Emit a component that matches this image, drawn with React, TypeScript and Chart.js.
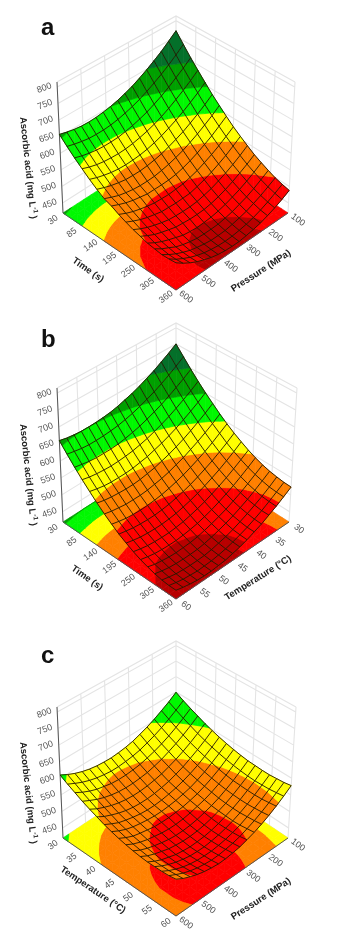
import React, { useEffect, useRef } from "react";
import { Chart, registerables } from "chart.js";
Chart.register(...registerables);

const levels = [450, 500, 550, 600, 650, 700];
const bandColors = ["#b80000", "#ff0000", "#ff8000", "#ffff00", "#00f800", "#00a000", "#04702a"];
const zTicks = [450, 500, 550, 600, 650, 700, 750, 800];
const timeTicks = ["30", "85", "140", "195", "250", "305", "360"];
const tempTicks = ["30", "35", "40", "45", "50", "55", "60"];
const presTicks = ["600", "500", "400", "300", "200", "100"];
const Z0 = 420, Z1 = 815;

// Ascorbic acid: one row per mesh line
const surfaceA = [
  [768, 748, 729, 713, 698, 685, 673, 664, 656, 650, 646, 643, 642, 643, 646, 651, 657],
  [738, 718, 700, 684, 670, 657, 646, 637, 630, 624, 620, 618, 618, 619, 623, 628, 634],
  [709, 690, 673, 657, 643, 631, 620, 612, 605, 600, 596, 595, 595, 597, 601, 606, 613],
  [683, 664, 647, 632, 618, 606, 596, 588, 582, 577, 574, 573, 574, 576, 580, 586, 594],
  [658, 639, 623, 608, 595, 584, 574, 566, 560, 556, 554, 553, 554, 557, 562, 568, 576],
  [634, 616, 600, 586, 573, 563, 554, 546, 541, 537, 535, 535, 536, 540, 545, 552, 560],
  [613, 595, 580, 566, 554, 543, 535, 528, 523, 519, 518, 518, 520, 524, 529, 537, 546],
  [593, 576, 560, 547, 535, 525, 517, 511, 508, 507, 507, 507, 511, 515, 521, 529, 538],
  [574, 558, 543, 530, 519, 509, 502, 496, 494, 492, 493, 494, 498, 503, 509, 517, 527],
  [558, 542, 527, 515, 504, 495, 488, 482, 481, 480, 481, 482, 487, 492, 499, 508, 518],
  [543, 527, 513, 501, 491, 482, 476, 471, 469, 469, 470, 472, 477, 483, 490, 499, 510],
  [529, 514, 501, 489, 479, 471, 465, 461, 460, 460, 462, 464, 470, 476, 483, 493, 504],
  [518, 503, 490, 479, 470, 462, 456, 452, 450, 449, 451, 454, 461, 468, 476, 486, 498],
  [508, 494, 481, 470, 462, 454, 449, 445, 444, 444, 445, 449, 454, 461, 472, 482, 495],
  [499, 486, 474, 464, 455, 449, 444, 440, 439, 439, 442, 446, 451, 459, 468, 479, 492],
  [493, 480, 468, 458, 450, 444, 440, 437, 436, 437, 440, 444, 450, 458, 468, 479, 493],
  [488, 475, 464, 455, 447, 442, 438, 435, 435, 436, 439, 444, 451, 459, 469, 481, 495],
];
const surfaceB = [
  [750, 734, 720, 706, 695, 684, 675, 668, 661, 656, 653, 651, 650, 650, 652, 655, 660],
  [723, 707, 692, 679, 667, 657, 648, 640, 634, 629, 626, 624, 623, 623, 625, 629, 633],
  [697, 681, 667, 654, 642, 632, 623, 615, 609, 604, 600, 598, 598, 598, 600, 604, 608],
  [673, 657, 643, 630, 618, 608, 599, 591, 585, 580, 577, 575, 574, 575, 577, 580, 585],
  [651, 635, 621, 608, 596, 586, 577, 570, 563, 559, 555, 553, 553, 553, 555, 559, 564],
  [631, 615, 601, 588, 576, 566, 557, 550, 543, 539, 535, 533, 533, 534, 536, 539, 544],
  [612, 596, 582, 569, 558, 547, 539, 531, 525, 521, 517, 515, 515, 515, 518, 521, 526],
  [595, 580, 565, 552, 541, 531, 522, 515, 509, 504, 501, 499, 498, 499, 501, 505, 510],
  [580, 564, 550, 537, 526, 516, 507, 500, 494, 489, 486, 484, 484, 485, 487, 491, 495],
  [567, 551, 537, 524, 513, 503, 494, 487, 481, 476, 473, 471, 471, 472, 474, 478, 483],
  [555, 540, 526, 513, 502, 492, 483, 476, 470, 465, 462, 460, 460, 461, 463, 467, 472],
  [545, 530, 516, 503, 492, 482, 473, 466, 460, 456, 453, 451, 451, 452, 454, 458, 463],
  [537, 522, 508, 495, 484, 474, 466, 459, 453, 448, 445, 444, 443, 444, 447, 450, 456],
  [531, 516, 502, 489, 478, 468, 460, 453, 447, 442, 439, 438, 438, 439, 441, 445, 450],
  [527, 511, 497, 485, 474, 464, 455, 448, 443, 438, 435, 434, 434, 435, 437, 441, 446],
  [524, 509, 495, 482, 471, 461, 453, 446, 440, 436, 433, 432, 431, 433, 435, 439, 444],
  [523, 508, 494, 482, 470, 461, 452, 445, 440, 435, 433, 431, 431, 432, 435, 439, 444],
];
const surfaceC = [
  [649, 632, 618, 605, 594, 585, 577, 572, 569, 567, 568, 570, 574, 580, 588, 598, 610],
  [636, 620, 605, 592, 581, 572, 564, 559, 556, 554, 554, 557, 561, 567, 575, 585, 596],
  [625, 608, 593, 580, 569, 560, 553, 547, 544, 542, 542, 544, 549, 554, 562, 572, 584],
  [615, 598, 583, 570, 559, 549, 542, 536, 533, 531, 531, 533, 537, 543, 551, 561, 572],
  [605, 588, 573, 560, 549, 540, 532, 527, 523, 521, 521, 523, 527, 533, 541, 550, 562],
  [597, 580, 565, 552, 540, 531, 523, 518, 514, 512, 512, 514, 518, 524, 532, 541, 553],
  [590, 573, 558, 544, 533, 524, 517, 512, 508, 506, 506, 508, 512, 517, 523, 533, 544],
  [584, 567, 552, 538, 527, 518, 512, 507, 504, 502, 502, 504, 507, 511, 517, 526, 537],
  [579, 562, 546, 533, 522, 513, 507, 502, 499, 497, 497, 498, 502, 506, 511, 520, 531],
  [575, 558, 542, 529, 518, 509, 503, 497, 493, 491, 491, 493, 497, 501, 507, 515, 526],
  [572, 555, 539, 526, 514, 505, 498, 492, 488, 486, 486, 488, 492, 497, 503, 511, 522],
  [571, 553, 538, 524, 512, 503, 495, 489, 485, 483, 483, 485, 488, 494, 500, 508, 519],
  [570, 552, 537, 523, 511, 502, 493, 487, 483, 481, 480, 482, 485, 491, 497, 506, 517],
  [570, 553, 537, 523, 511, 501, 493, 487, 483, 480, 480, 481, 485, 490, 497, 506, 517],
  [572, 554, 538, 525, 513, 502, 494, 488, 484, 481, 481, 482, 485, 490, 497, 506, 517],
  [574, 557, 541, 527, 515, 505, 496, 490, 486, 483, 482, 484, 487, 492, 499, 508, 518],
  [578, 560, 544, 530, 518, 508, 500, 493, 489, 486, 485, 487, 490, 495, 502, 510, 521],
];

type Pt = [number, number];
type Panel = {
  letter: string; letterY: number; top: number; z: number[][];
  floor: Pt[]; roof: Pt[]; // back, right, left, front corners
  leftTicks: string[]; rightTicks: string[]; leftTitle: string; rightTitle: string;
  leftPos: Pt; leftRot: number; rightPos: Pt; rightRot: number; zPos: Pt;
};
const panels: Panel[] = [
  { letter: "a", letterY: 35, top: 0, z: surfaceA,
    floor: [[176, 140], [288, 213], [63, 213], [176, 290]], roof: [[176, 16], [295, 82], [57, 82], [176, 147]],
    leftTicks: timeTicks, rightTicks: presTicks, leftTitle: "Time (s)", rightTitle: "Pressure (MPa)",
    leftPos: [88, 270], leftRot: 35, rightPos: [261, 271], rightRot: -33, zPos: [28, 168] },
  { letter: "b", letterY: 32, top: 315, z: surfaceB,
    floor: [[176, 135], [289, 207], [63, 207], [176, 284]], roof: [[176, 8], [297, 73], [57, 73], [176, 140]],
    leftTicks: timeTicks, rightTicks: tempTicks.slice().reverse(), leftTitle: "Time (s)", rightTitle: "Temperature (\u00b0C)",
    leftPos: [87, 263], leftRot: 35, rightPos: [258, 263], rightRot: -32, zPos: [28, 160] },
  { letter: "c", letterY: 33, top: 630, z: surfaceC,
    floor: [[176, 133], [288, 208], [63, 208], [176, 286]], roof: [[176, 11], [296, 77], [57, 77], [176, 142]],
    leftTicks: tempTicks, rightTicks: presTicks, leftTitle: "Temperature (\u00b0C)", rightTitle: "Pressure (MPa)",
    leftPos: [93, 260], leftRot: 34, rightPos: [261, 269], rightRot: -33, zPos: [28, 163] },
];

const bil = (c: Pt[], t: number, q: number): Pt => {
  const a = (1 - t) * (1 - q), b = t * (1 - q), d = (1 - t) * q, e = t * q;
  return [c[0][0] * a + c[1][0] * b + c[2][0] * d + c[3][0] * e, c[0][1] * a + c[1][1] * b + c[2][1] * d + c[3][1] * e];
};
const project = (p: Panel, t: number, q: number, z: number): { x: number; y: number } => {
  const w = (z - Z0) / (Z1 - Z0), f = bil(p.floor, t, q), r = bil(p.roof, t, q);
  return { x: f[0] + (r[0] - f[0]) * w, y: f[1] + (r[1] - f[1]) * w };
};
type V = [number, number, number];
const clip = (poly: V[], lvl: number, keepAbove: boolean): V[] => {
  const out: V[] = [];
  for (let i = 0; i < poly.length; i++) {
    const a = poly[i], b = poly[(i + 1) % poly.length];
    const ia = keepAbove ? a[2] >= lvl : a[2] <= lvl, ib = keepAbove ? b[2] >= lvl : b[2] <= lvl;
    if (ia) out.push(a);
    if (ia !== ib) { const s = (lvl - a[2]) / (b[2] - a[2]); out.push([a[0] + (b[0] - a[0]) * s, a[1] + (b[1] - a[1]) * s, lvl]); }
  }
  return out;
};
const gap = () => ({ x: NaN, y: NaN });
const bandPolys = (p: Panel, flat: boolean) => {
  const sets: { x: number; y: number }[][] = bandColors.map(() => []);
  const m = p.z, N = m.length - 1;
  const emit = (tri: V[]) => {
    bandColors.forEach((_, b) => {
      let poly = tri;
      if (b > 0) poly = clip(poly, levels[b - 1], true);
      if (b < levels.length && poly.length) poly = clip(poly, levels[b], false);
      if (poly.length >= 3) {
        poly.forEach((v) => sets[b].push(project(p, v[0], v[1], flat ? Z0 : v[2])));
        sets[b].push(project(p, poly[0][0], poly[0][1], flat ? Z0 : poly[0][2]));
        sets[b].push(gap());
      }
    });
  };
  for (let i = 0; i < N; i++) for (let j = 0; j < N; j++) {
    const A: V = [i / N, j / N, m[i][j]], B: V = [(i + 1) / N, j / N, m[i + 1][j]];
    const C: V = [(i + 1) / N, (j + 1) / N, m[i + 1][j + 1]], D: V = [i / N, (j + 1) / N, m[i][j + 1]];
    emit([A, B, C]); emit([A, C, D]);
  }
  return sets;
};
const mesh = (p: Panel) => {
  const d: { x: number; y: number }[] = [], N = p.z.length - 1;
  for (let i = 0; i <= N; i++) { for (let j = 0; j <= N; j++) d.push(project(p, i / N, j / N, p.z[i][j])); d.push(gap()); }
  for (let j = 0; j <= N; j++) { for (let i = 0; i <= N; i++) d.push(project(p, i / N, j / N, p.z[i][j])); d.push(gap()); }
  return d;
};
const walls = (p: Panel) => {
  const d: { x: number; y: number }[] = [];
  const nq = p.rightTicks.length - 1, nt = p.leftTicks.length - 1;
  for (let i = 0; i <= nq; i++) { d.push(project(p, 0, i / nq, Z0), project(p, 0, i / nq, Z1), gap()); }
  for (let i = 1; i <= nt; i++) { d.push(project(p, i / nt, 0, Z0), project(p, i / nt, 0, Z1), gap()); }
  [...zTicks, Z1].forEach((z) => d.push(project(p, 0, 1, z), project(p, 0, 0, z), project(p, 1, 0, z), gap()));
  d.push(project(p, 0, 1, Z0), project(p, 0, 0, Z0), project(p, 1, 0, Z0), gap());
  return d;
};

const FONT = '"Liberation Sans", Arial, sans-serif';
const labelsPlugin = (p: Panel) => ({
  id: "labels",
  afterDraw(chart: any) {
    const { ctx, scales: { x: sx, y: sy } } = chart;
    const text = (s: string, px: number, py: number, rot: number, font: string, color: string, align: CanvasTextAlign = "center") => {
      ctx.save();
      ctx.translate(sx.getPixelForValue(px), sy.getPixelForValue(py));
      ctx.rotate((rot * Math.PI) / 180);
      ctx.font = font; ctx.fillStyle = color; ctx.textAlign = align; ctx.textBaseline = "middle";
      ctx.fillText(s, 0, 0);
      ctx.restore();
    };
    const tf = `9px ${FONT}`, tc = "#555";
    zTicks.forEach((z) => { const a = project(p, 0, 1, z); text(String(z), a.x - 13, a.y + 1, -20, tf, tc); });
    const nt = p.leftTicks.length - 1;
    p.leftTicks.forEach((s, i) => { const a = project(p, i / nt, 1, Z0); text(s, a.x - 10, a.y + 7, -36, tf, tc); });
    const nq = p.rightTicks.length - 1;
    p.rightTicks.forEach((s, i) => { const a = project(p, 1, 1 - i / nq, Z0); text(s, a.x + 10, a.y + 7, 36, tf, tc); });
    const bf = `bold 9.5px ${FONT}`, bc = "#222";
    text(p.leftTitle, p.leftPos[0], p.leftPos[1], p.leftRot, bf, bc);
    text(p.rightTitle, p.rightPos[0], p.rightPos[1], p.rightRot, bf, bc);
    ctx.save();
    ctx.translate(sx.getPixelForValue(p.zPos[0]), sy.getPixelForValue(p.zPos[1]));
    ctx.rotate((84 * Math.PI) / 180);
    ctx.font = `bold 9.5px ${FONT}`; ctx.fillStyle = bc; ctx.textBaseline = "middle"; ctx.textAlign = "left";
    const head = "Ascorbic acid (mg L", w = ctx.measureText(head).width;
    ctx.fillText(head, -w / 2 - 6, 0);
    ctx.font = `bold 6.5px ${FONT}`; ctx.fillText("-1", w / 2 - 5.5, -3);
    ctx.font = `bold 9.5px ${FONT}`; ctx.fillText(")", w / 2 + 2.5, 0);
    ctx.restore();
    ctx.save();
    ctx.font = `bold 24px ${FONT}`; ctx.fillStyle = "#111"; ctx.textBaseline = "alphabetic"; ctx.textAlign = "left";
    ctx.fillText(p.letter, sx.getPixelForValue(41), sy.getPixelForValue(p.letterY));
    ctx.restore();
  },
});

function SurfaceChart({ panel }: { panel: Panel }) {
  const ref = useRef<HTMLCanvasElement>(null);
  useEffect(() => {
    const solid = [1000, 0];
    const line = (label: string, data: any[], color: string, width: number) => ({ label, data, borderColor: color, borderWidth: width, borderDash: solid, pointRadius: 0, showLine: true, fill: false, tension: 0 });
    const fillSet = (label: string, data: any[], color: string) => ({ label, data, borderColor: color, backgroundColor: color, borderWidth: 0.7, borderDash: solid, pointRadius: 0, showLine: true, fill: "shape", tension: 0 });
    const p = panel;
    const ds: any[] = [line("walls", walls(p), "#e4e4e4", 1.1)];
    bandPolys(p, true).forEach((d, i) => ds.push(fillSet("floor " + i, d, bandColors[i])));
    ds.push(line("axes", [project(p, 0, 1, Z1), project(p, 0, 1, Z0), project(p, 1, 1, Z0), project(p, 1, 0, Z0)], "#555", 1));
    bandPolys(p, false).forEach((d, i) => ds.push(fillSet("surface " + i, d, bandColors[i])));
    ds.push(line("mesh", mesh(p), "rgba(35,25,0,0.9)", 1));
    ds.forEach((d, i) => (d.order = ds.length - i));
    const chart = new Chart(ref.current!, {
      type: "scatter",
      data: { datasets: ds },
      options: {
        animation: false, responsive: false, devicePixelRatio: 1,
        layout: { padding: 0 },
        plugins: { legend: { display: false }, tooltip: { enabled: false }, title: { display: false } },
        events: [],
        scales: { x: { type: "linear", min: 0, max: 350, display: false }, y: { type: "linear", min: 0, max: 315, reverse: true, display: false } },
      } as any,
      plugins: [labelsPlugin(p)],
    });
    return () => chart.destroy();
  }, [panel]);
  return <canvas ref={ref} width={350} height={315} style={{ position: "absolute", left: 0, top: panel.top, width: 350, height: 315, filter: "blur(0.4px)" }} />;
}

export default function App() {
  return (
    <div style={{ position: "absolute", left: 0, top: 0, width: 350, height: 945, background: "#fff", overflow: "hidden" }}>
      {panels.map((p) => <SurfaceChart key={p.letter} panel={p} />)}
    </div>
  );
}
